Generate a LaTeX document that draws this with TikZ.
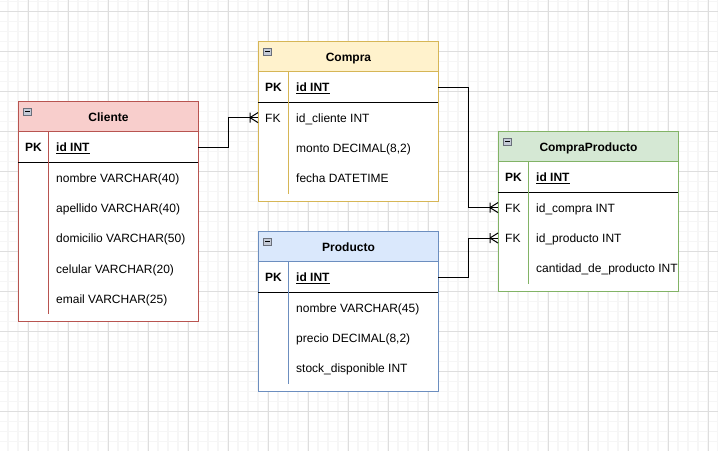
\documentclass[tikz,border=0pt]{standalone}
\usepackage{fontspec}
\setmainfont{Liberation Sans}
\usetikzlibrary{calc}
\definecolor{cliFill}{HTML}{F8CECC}
\definecolor{cliLine}{HTML}{B85450}
\definecolor{comFill}{HTML}{FFF2CC}
\definecolor{comLine}{HTML}{D6B656}
\definecolor{proFill}{HTML}{DAE8FC}
\definecolor{proLine}{HTML}{6C8EBF}
\definecolor{cpFill}{HTML}{D5E8D4}
\definecolor{cpLine}{HTML}{82B366}
\definecolor{gridMinor}{HTML}{F6F6F6}
\definecolor{gridMajor}{HTML}{DEDEDE}
\definecolor{iconFill}{HTML}{C4CAD6}
\definecolor{iconLine}{HTML}{6A6F7A}
\tikzset{
  tablebox/.style={draw, fill=white, line width=1pt, minimum width=180pt, inner sep=0pt, anchor=north west},
  headbox/.style={draw, line width=1pt, minimum width=180pt, minimum height=30pt, inner sep=0pt,
    anchor=north west, text height=9pt, text depth=0pt, font=\bfseries\fontsize{12}{14}\selectfont},
  rowbox/.style={minimum width=180pt, minimum height=30pt, inner sep=0pt, anchor=north west},
  keytxt/.style={anchor=west, inner sep=0pt, text height=9pt, text depth=0pt, font=\fontsize{12}{14}\selectfont},
  fieldtxt/.style={anchor=west, inner sep=0pt, text height=9pt, text depth=0pt, font=\fontsize{12}{14}\selectfont},
  iconbox/.style={draw=iconLine, fill=iconFill, line width=0.8pt, minimum width=8pt, minimum height=7pt, inner sep=0pt, anchor=north west},
  conn/.style={draw=black, line width=1pt},
  sepline/.style={draw=black, line width=1pt},
}
\newcommand\errow[4]{%
  \node[rowbox] (#1) at (#2) {};
  \node[keytxt] (#1-k) at ([xshift=7pt]#1.west) {#3};
  \node[fieldtxt] (#1-f) at ([xshift=38pt]#1.west) {#4};
}
\newcommand\ericon[1]{%
  \node[iconbox] (#1-i) at ([xshift=5pt,yshift=-7pt]#1.north west) {};
  \draw[black, line width=1pt] ([xshift=2pt]#1-i.west) -- ([xshift=-2pt]#1-i.east);
}
\newcommand\crowfoot[1]{%
  \draw[conn] ([xshift=-8pt]#1) -- ([yshift=5pt]#1)
              ([xshift=-8pt]#1) -- ([yshift=-5pt]#1)
              ([xshift=-8pt,yshift=5pt]#1) -- ([xshift=-8pt,yshift=-5pt]#1);
}
\begin{document}
\begin{tikzpicture}[x=1pt, y=-1pt]
\useasboundingbox (0,0) rectangle (718,451);
\fill[white] (0,0) rectangle (718,451);
% grid
\foreach \gx in {8,18,...,718} \draw[gridMinor, line width=1.2pt] (\gx,0) -- (\gx,451);
\foreach \gy in {1.5,11.5,...,451} \draw[gridMinor, line width=1.2pt] (0,\gy) -- (718,\gy);
\foreach \gx in {28,68,...,718} \draw[gridMajor, line width=0.9pt] (\gx,0) -- (\gx,451);
\foreach \gy in {11.5,51.5,...,451} \draw[gridMajor, line width=0.9pt] (0,\gy) -- (718,\gy);

% ---------- Cliente
\node[tablebox, draw=cliLine, minimum height=220pt] (cli) at (18,101) {};
\node[headbox, draw=cliLine, fill=cliFill] (cli-h) at (cli.north west) {Cliente};
\ericon{cli}
\errow{cli-r1}{cli-h.south west}{\bfseries PK}{\bfseries\underline{id INT}}
\errow{cli-r2}{cli-r1.south west}{}{nombre VARCHAR(40)}
\errow{cli-r3}{cli-r2.south west}{}{apellido VARCHAR(40)}
\errow{cli-r4}{cli-r3.south west}{}{domicilio VARCHAR(50)}
\errow{cli-r5}{cli-r4.south west}{}{celular VARCHAR(20)}
\errow{cli-r6}{cli-r5.south west}{}{email VARCHAR(25)}
\draw[sepline] (cli-r1.south west) -- (cli-r1.south east);
\draw[cliLine, line width=1pt] ([xshift=30pt]cli-r1.north west) -- ([xshift=30pt]cli-r6.south west);

% ---------- Compra
\node[tablebox, draw=comLine, minimum height=160pt] (com) at (258,41) {};
\node[headbox, draw=comLine, fill=comFill] (com-h) at (com.north west) {Compra};
\ericon{com}
\errow{com-r1}{com-h.south west}{\bfseries PK}{\bfseries\underline{id INT}}
\errow{com-r2}{com-r1.south west}{FK}{id\_cliente INT}
\errow{com-r3}{com-r2.south west}{}{monto DECIMAL(8,2)}
\errow{com-r4}{com-r3.south west}{}{fecha DATETIME}
\draw[sepline] (com-r1.south west) -- (com-r1.south east);
\draw[comLine, line width=1pt] ([xshift=30pt]com-r1.north west) -- ([xshift=30pt]com-r4.south west);

% ---------- Producto
\node[tablebox, draw=proLine, minimum height=160pt] (pro) at (258,231) {};
\node[headbox, draw=proLine, fill=proFill] (pro-h) at (pro.north west) {Producto};
\ericon{pro}
\errow{pro-r1}{pro-h.south west}{\bfseries PK}{\bfseries\underline{id INT}}
\errow{pro-r2}{pro-r1.south west}{}{nombre VARCHAR(45)}
\errow{pro-r3}{pro-r2.south west}{}{precio DECIMAL(8,2)}
\errow{pro-r4}{pro-r3.south west}{}{stock\_disponible INT}
\draw[sepline] (pro-r1.south west) -- (pro-r1.south east);
\draw[proLine, line width=1pt] ([xshift=30pt]pro-r1.north west) -- ([xshift=30pt]pro-r4.south west);

% ---------- CompraProducto
\node[tablebox, draw=cpLine, minimum height=160pt] (cp) at (498,131) {};
\node[headbox, draw=cpLine, fill=cpFill] (cp-h) at (cp.north west) {CompraProducto};
\ericon{cp}
\errow{cp-r1}{cp-h.south west}{\bfseries PK}{\bfseries\underline{id INT}}
\errow{cp-r2}{cp-r1.south west}{FK}{id\_compra INT}
\errow{cp-r3}{cp-r2.south west}{FK}{id\_producto INT}
\errow{cp-r4}{cp-r3.south west}{}{cantidad\_de\_producto INT}
\draw[sepline] (cp-r1.south west) -- (cp-r1.south east);
\draw[cpLine, line width=1pt] ([xshift=30pt]cp-r1.north west) -- ([xshift=30pt]cp-r4.south west);

% ---------- connectors
\draw[conn] (cli-r1.east) -- ++(30,0) |- (com-r2.west);
\crowfoot{com-r2.west}
\draw[conn] (com-r1.east) -- ++(30,0) |- (cp-r2.west);
\crowfoot{cp-r2.west}
\draw[conn] (pro-r1.east) -- ++(30,0) |- (cp-r3.west);
\crowfoot{cp-r3.west}
\end{tikzpicture}
\end{document}
